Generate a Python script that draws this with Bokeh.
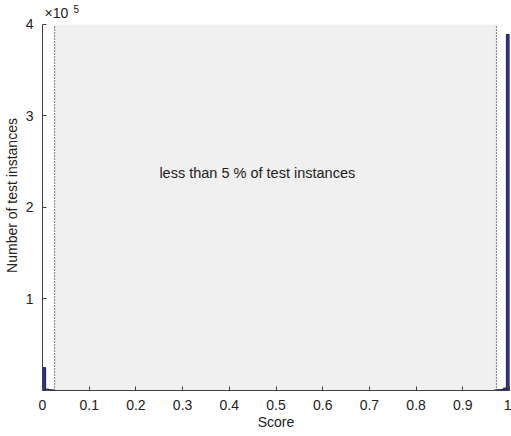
from bokeh.plotting import figure
from bokeh.models import Range1d, Label, FixedTicker
from bokeh.embed import file_html
from bokeh.resources import INLINE

n_bins = 150
bin_index = [0, 1, 2, 3, 145, 146, 147, 148, 149]
counts = [25000, 1500, 900, 600, 500, 800, 1200, 2600, 389000]
shade_lo, shade_hi = 0.026, 0.972
note = "less than 5 % of test instances"
x_ticks = [0, 0.1, 0.2, 0.3, 0.4, 0.5, 0.6, 0.7, 0.8, 0.9, 1.0]
x_labels = ["0", "0.1", "0.2", "0.3", "0.4", "0.5", "0.6", "0.7", "0.8", "0.9", "1"]
y_ticks = [100000, 200000, 300000, 400000]
y_labels = ["1", "2", "3", "4"]
y_max = 400000

FONT = "Liberation Sans"
p = figure(width=511, height=436, output_backend="svg", toolbar_location=None,
           x_range=Range1d(0, 1), y_range=Range1d(0, 426200),
           min_border_left=42, min_border_right=2, min_border_top=0, min_border_bottom=46)
p.outline_line_color = None
p.xgrid.visible = False
p.ygrid.visible = False

p.quad(left=[shade_lo], right=[shade_hi], bottom=[0], top=[y_max],
       fill_color="#f0f0f0", line_color=None)
p.segment(x0=[shade_lo, shade_hi], y0=[0, 0], x1=[shade_lo, shade_hi], y1=[y_max, y_max],
          line_color="black", line_dash="1 2", line_width=1)

w = 1.0 / n_bins
lefts = [i * w for i in bin_index]
rights = [(i + 1) * w for i in bin_index]
p.quad(left=lefts, right=rights, bottom=[0] * len(counts), top=counts,
       fill_color="#32308c", line_color="#1e1e55", line_width=1)

p.add_layout(Label(x=0.46, y=238000, text=note, text_align="center", text_baseline="middle",
                   text_font=FONT, text_font_size="14.5px", text_color="#222222"))
p.add_layout(Label(x=0, y=y_max, text="\u00d710", x_offset=2, y_offset=3,
                   text_font=FONT, text_font_size="14px", text_color="#222222"))
p.add_layout(Label(x=0, y=y_max, text="5", x_offset=31, y_offset=11,
                   text_font=FONT, text_font_size="10px", text_color="#222222"))

for ax in (p.xaxis[0], p.yaxis[0]):
    ax.axis_line_color = "#404040"
    ax.major_tick_line_color = "#404040"
    ax.major_tick_in = 4
    ax.major_tick_out = 0
    ax.minor_tick_line_color = None
    ax.major_label_text_font = FONT
    ax.major_label_text_font_size = "14px"
    ax.major_label_text_color = "#222222"
    ax.axis_label_text_font = FONT
    ax.axis_label_text_font_size = "14px"
    ax.axis_label_text_font_style = "normal"
    ax.axis_label_text_color = "#222222"

p.yaxis.bounds = (0, y_max)
p.xaxis.ticker = FixedTicker(ticks=x_ticks)
p.xaxis.major_label_overrides = {t: l for t, l in zip(x_ticks, x_labels)}
p.yaxis.ticker = FixedTicker(ticks=y_ticks)
p.yaxis.major_label_overrides = {t: l for t, l in zip(y_ticks, y_labels)}
p.xaxis.axis_label = "Score"
p.yaxis.axis_label = "Number of test instances"
p.xaxis.major_label_standoff = 9
p.yaxis.major_label_standoff = 9
p.xaxis.axis_label_standoff = 1
p.yaxis.axis_label_standoff = 3

open("out.html", "w").write(file_html(p, INLINE))
